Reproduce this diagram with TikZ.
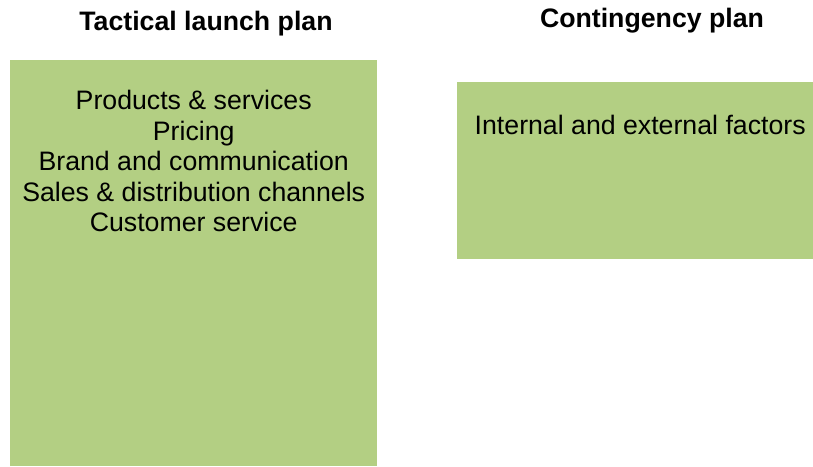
\documentclass[tikz,border=0pt]{standalone}
\usepackage{fontspec}
\setmainfont{Liberation Sans}
\usetikzlibrary{positioning}
\definecolor{plangreen}{RGB}{179,207,131}

\begin{document}
\begin{tikzpicture}[
		x=1pt, y=-1pt,
		planbox/.style={fill=plangreen, draw=none, inner sep=0pt},
		plantitle/.style={font=\fontsize{26.7}{30}\selectfont\bfseries, inner sep=0pt},
		itemtext/.style={font=\fontsize{26.7}{30.5}\selectfont, align=center, inner sep=0pt}
	]
		\useasboundingbox (0,0) rectangle (813,466);

		% two plan boxes
		\node[planbox, anchor=north west, minimum width=367pt, minimum height=406pt] (launch) at (10,60) {};
		\node[planbox, anchor=north west, minimum width=356pt, minimum height=177pt] (contingency) at (457,82) {};

		% headings
		\node[plantitle] (launchtitle) at (206,24) {Tactical launch plan};
		\node[plantitle] (contingencytitle) at (652,21) {Contingency plan};

		% box contents
		\node[itemtext, below=30pt of launch.north] (launchitems) {Products \& services\\Pricing\\Brand and communication\\Sales \& distribution channels\\Customer service};
		\node[itemtext, below=33pt of contingency.north, xshift=5pt] (factors) {Internal and external factors};
	\end{tikzpicture}
\end{document}
